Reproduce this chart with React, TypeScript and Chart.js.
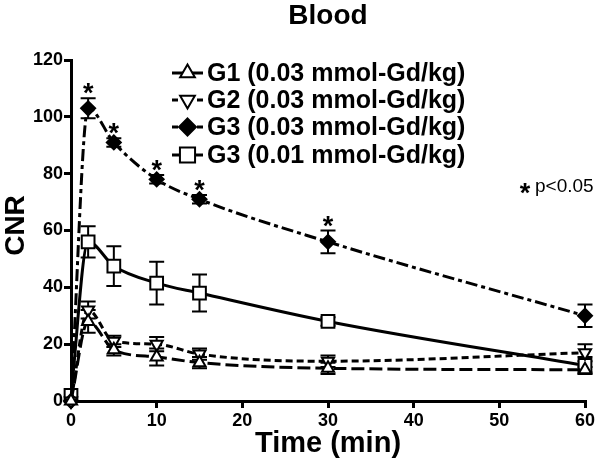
import React, { useEffect, useRef } from 'react';
import { Chart, registerables } from 'chart.js';

Chart.register(...registerables);

// ---- data ----
const times = [0, 2, 5, 10, 15, 30, 60];
const g1Mean = [0, 28, 18, 15.5, 13.5, 11.5, 11];
const g1Err = [0, 4, 2, 3, 2, 2, 1];
const g2Mean = [0, 32, 21, 20, 16.5, 14, 17];
const g2Err = [0, 3, 2, 2.5, 2, 2, 3];
const g3hMean = [0, 103, 91, 78, 71, 56, 30];
const g3hErr = [0, 3.5, 1.5, 1.5, 1.5, 4, 4];
const g3lMean = [2, 56, 47.5, 41.5, 38, 28, 12.5];
const g3lErr = [0, 5.5, 7, 7.5, 6.5, 1.5, 3];
const sigTimes = [2, 5, 10, 15, 30];
const seriesLabels = [
  'G1 (0.03 mmol-Gd/kg)',
  'G2 (0.03 mmol-Gd/kg)',
  'G3 (0.03 mmol-Gd/kg)',
  'G3 (0.01 mmol-Gd/kg)',
];
const chartTitle = 'Blood';
const xTitle = 'Time (min)';
const yTitle = 'CNR';
const sigNote = 'p<0.05';

const FONT = '"Liberation Sans", Arial, Helvetica, sans-serif';

type Marker = 'tri' | 'triDown' | 'diamond' | 'square';

const seriesStyle: { marker: Marker; fill: string; dash: number[]; r: number; legendSolid: boolean }[] = [
  { marker: 'tri', fill: '#fff', dash: [13, 5], r: 7, legendSolid: true },
  { marker: 'triDown', fill: '#fff', dash: [7, 4], r: 7, legendSolid: false },
  { marker: 'diamond', fill: '#000', dash: [12, 4, 4, 4], r: 7, legendSolid: false },
  { marker: 'square', fill: '#fff', dash: [], r: 9, legendSolid: true },
];

const means = [g1Mean, g2Mean, g3hMean, g3lMean];
const errs = [g1Err, g2Err, g3hErr, g3lErr];

function drawMarker(ctx: CanvasRenderingContext2D, m: Marker, x: number, y: number, r: number, fill: string) {
  ctx.save();
  ctx.setLineDash([]);
  ctx.beginPath();
  if (m === 'tri' || m === 'triDown') {
    const s = m === 'tri' ? 1 : -1;
    ctx.moveTo(x, y - s * r);
    ctx.lineTo(x + r * 0.866, y + s * r * 0.5);
    ctx.lineTo(x - r * 0.866, y + s * r * 0.5);
    ctx.closePath();
  } else if (m === 'diamond') {
    ctx.moveTo(x, y - r);
    ctx.lineTo(x + r, y);
    ctx.lineTo(x, y + r);
    ctx.lineTo(x - r, y);
    ctx.closePath();
  } else {
    const h = r * 0.72;
    ctx.rect(x - h, y - h, 2 * h, 2 * h);
  }
  ctx.fillStyle = fill;
  ctx.fill();
  ctx.lineWidth = 2;
  ctx.strokeStyle = '#000';
  ctx.stroke();
  ctx.restore();
}

const errorBarPlugin = {
  id: 'errorBars',
  beforeDatasetsDraw(chart: any) {
    const ctx = chart.ctx as CanvasRenderingContext2D;
    const xs = chart.scales.x;
    const ys = chart.scales.y;
    ctx.save();
    ctx.strokeStyle = '#000';
    ctx.lineWidth = 2;
    ctx.setLineDash([]);
    means.forEach((mArr, si) => {
      mArr.forEach((m, i) => {
        const e = errs[si][i];
        if (!e) return;
        const px = xs.getPixelForValue(times[i]);
        const top = ys.getPixelForValue(m + e);
        const bot = ys.getPixelForValue(m - e);
        ctx.beginPath();
        ctx.moveTo(px, top);
        ctx.lineTo(px, bot);
        ctx.moveTo(px - 7.5, top);
        ctx.lineTo(px + 7.5, top);
        ctx.moveTo(px - 7.5, bot);
        ctx.lineTo(px + 7.5, bot);
        ctx.stroke();
      });
    });
    ctx.restore();
  },
};

const textPlugin = {
  id: 'texts',
  afterDraw(chart: any) {
    const ctx = chart.ctx as CanvasRenderingContext2D;
    const xs = chart.scales.x;
    const ys = chart.scales.y;
    const area = chart.chartArea;
    ctx.save();
    ctx.fillStyle = '#000';
    // title
    ctx.font = `bold 28px ${FONT}`;
    ctx.textAlign = 'center';
    ctx.textBaseline = 'middle';
    ctx.fillText(chartTitle, (area.left + area.right) / 2, 16);
    // x title
    ctx.font = `bold 29px ${FONT}`;
    ctx.fillText(xTitle, (area.left + area.right) / 2, 444);
    // y title
    ctx.save();
    ctx.translate(16, (area.top + area.bottom) / 2 - 5);
    ctx.rotate(-Math.PI / 2);
    ctx.font = `bold 28px ${FONT}`;
    ctx.fillText(yTitle, 0, 0);
    ctx.restore();

    // legend
    const rows = [73, 100, 127, 155];
    seriesLabels.forEach((lab, i) => {
      const st = seriesStyle[i];
      const y = rows[i];
      ctx.save();
      ctx.strokeStyle = '#000';
      ctx.lineWidth = 3;
      ctx.setLineDash([]);
      ctx.beginPath();
      if (st.legendSolid) {
        ctx.moveTo(172, y);
        ctx.lineTo(203, y);
      } else {
        ctx.moveTo(172, y);
        ctx.lineTo(178, y);
        ctx.moveTo(197, y);
        ctx.lineTo(203, y);
      }
      ctx.stroke();
      ctx.restore();
      drawMarker(ctx, st.marker, 187.5, y, st.r + 1.5, st.fill);
      ctx.font = `bold 25px ${FONT}`;
      ctx.textAlign = 'left';
      ctx.textBaseline = 'middle';
      ctx.fillStyle = '#000';
      ctx.fillText(lab, 207, y + 1);
    });

    // significance stars
    ctx.font = `bold 27px ${FONT}`;
    ctx.textAlign = 'center';
    ctx.textBaseline = 'alphabetic';
    sigTimes.forEach((t) => {
      const i = times.indexOf(t);
      const px = xs.getPixelForValue(t);
      const top = ys.getPixelForValue(g3hMean[i] + g3hErr[i]);
      const yc = top - 12;
      ctx.fillText('*', px, yc + 16);
    });
    // note
    ctx.fillText('*', 525, 186 + 16);
    ctx.font = `19px ${FONT}`;
    ctx.textAlign = 'left';
    ctx.textBaseline = 'middle';
    ctx.fillText(sigNote, 535, 187);
    ctx.restore();
  },
};

export default function App() {
  const ref = useRef<HTMLCanvasElement>(null);
  useEffect(() => {
    document.body.style.margin = '0';
    const canvas = ref.current!;
    const datasets = means.map((mArr, si) => {
      const st = seriesStyle[si];
      return {
        label: seriesLabels[si],
        data: times.map((t, i) => ({ x: t, y: mArr[i] })),
        borderColor: '#000',
        borderWidth: 3,
        borderDash: st.dash,
        backgroundColor: st.fill,
        pointStyle: st.marker === 'diamond' ? 'rectRot' : st.marker === 'square' ? 'rect' : 'triangle',
        pointRotation: st.marker === 'triDown' ? 180 : 0,
        pointRadius: st.r,
        pointBorderWidth: 2,
        pointBackgroundColor: st.fill,
        pointBorderColor: '#000',
        cubicInterpolationMode: 'monotone' as const,
        clip: false as any,
      };
    });
    const tickFont = { family: FONT, size: 18, weight: 'bold' as const };
    const chart = new Chart(canvas, {
      type: 'line',
      data: { datasets: datasets as any },
      options: {
        animation: false,
        responsive: false,
        maintainAspectRatio: false,
        layout: { padding: { top: 60, right: 15, left: 0, bottom: 0 } },
        plugins: {
          legend: { display: false },
          title: { display: false },
          tooltip: { enabled: false },
        },
        scales: {
          x: {
            type: 'linear',
            min: 0,
            max: 60,
            ticks: { stepSize: 10, color: '#000', font: tickFont, padding: 2, maxRotation: 0 },
            grid: { drawOnChartArea: false, drawTicks: true, tickLength: 7, color: '#000', lineWidth: 3 },
            border: { color: '#000', width: 3 },
            afterFit: (s: any) => {
              s.height = 68;
            },
          },
          y: {
            type: 'linear',
            min: 0,
            max: 120,
            ticks: { stepSize: 20, color: '#000', font: tickFont, padding: 1 },
            grid: { drawOnChartArea: false, drawTicks: true, tickLength: 7, color: '#000', lineWidth: 3 },
            border: { color: '#000', width: 3 },
            afterFit: (s: any) => {
              s.width = 71;
            },
          },
        },
      },
      plugins: [errorBarPlugin, textPlugin],
    });
    return () => chart.destroy();
  }, []);
  return (
    <div style={{ width: 600, height: 469 }}>
      <canvas ref={ref} width={600} height={469} style={{ display: 'block' }} />
    </div>
  );
}
